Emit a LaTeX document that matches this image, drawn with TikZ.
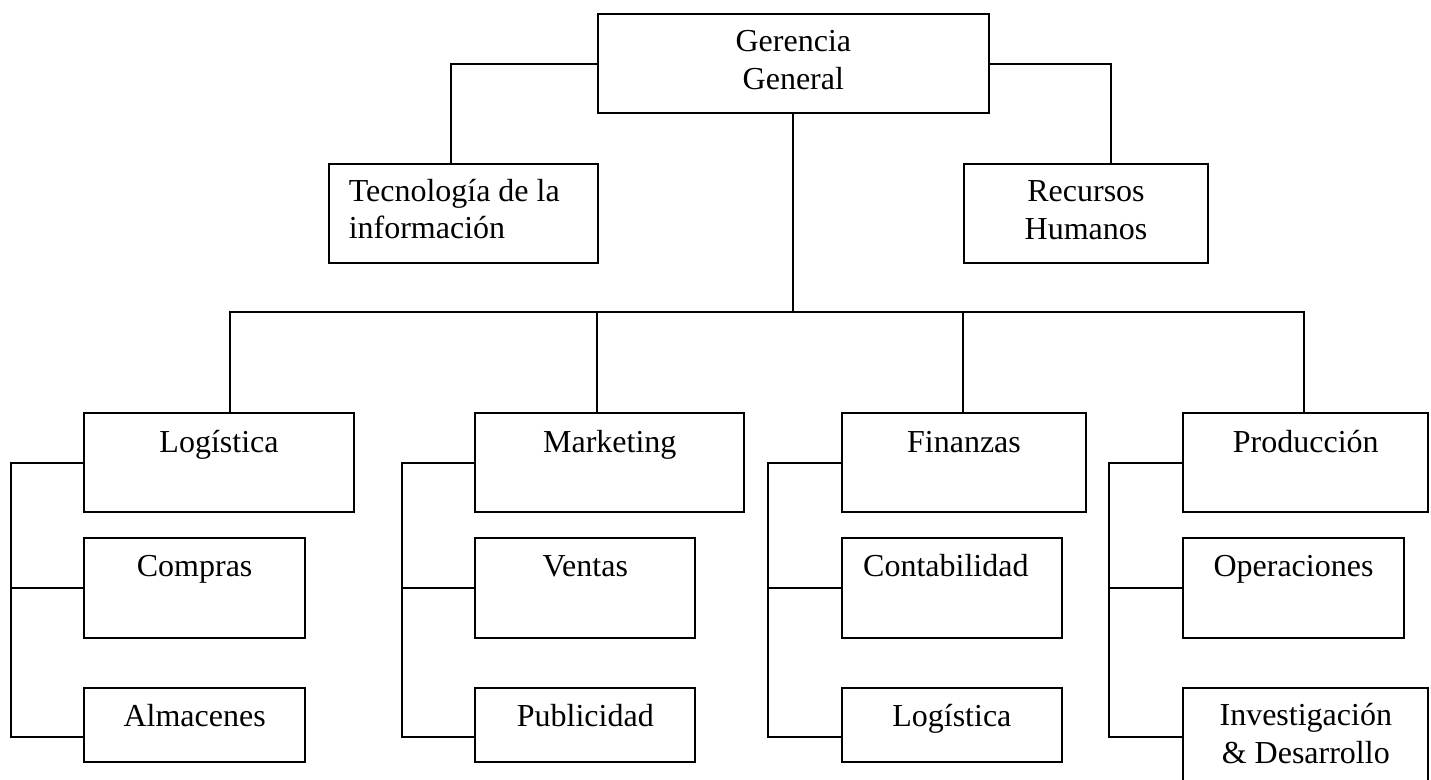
\documentclass[tikz,border=0pt]{standalone}
\usepackage{fontspec}
\setmainfont{Liberation Serif}
% two stacked lines whose baseline is the first one
\newcommand{\twolines}[3][c]{\begin{tabular}[t]{@{}#1@{}}#2\\#3\end{tabular}}
% box from its top-left to its bottom-right corner (units of the picture)
\newcommand{\orgbox}[5]{\node[box, minimum width={(#4-#2)*0.75pt}, minimum height={(#5-#3)*0.75pt}] (#1) at (#2,#3) {};}
\begin{document}
\begin{tikzpicture}[x=0.75pt, y=-0.75pt,
  font={\fontsize{24}{28.25}\selectfont},
  box/.style={draw, line width=1.5pt, inner sep=0pt, anchor=north west},
  wire/.style={line width=1.5pt},
  txt/.style={anchor=base, inner sep=0pt}]
\useasboundingbox (0,0) rectangle (1431,779);

% ---- boxes ----
\orgbox{gg}{597}{13.3}{987.7}{112.3}
\orgbox{ti}{327.7}{162.7}{597}{262.3}
\orgbox{rh}{962.7}{162.7}{1207.3}{262.3}
\orgbox{log}{83.3}{412.3}{352.7}{511}
\orgbox{mkt}{474.3}{412.3}{743.3}{511}
\orgbox{fin}{840.7}{412.3}{1085.3}{511}
\orgbox{prod}{1182.3}{412.3}{1427.3}{511}
\orgbox{comp}{83.3}{536.7}{304}{636.7}
\orgbox{vent}{474.3}{536.7}{694.3}{636.7}
\orgbox{cont}{840.7}{536.7}{1061}{636.7}
\orgbox{oper}{1182.3}{536.7}{1402.7}{636.7}
\orgbox{alm}{83.3}{686.7}{304}{761}
\orgbox{pub}{474.3}{686.7}{694.3}{761}
\orgbox{logf}{840.7}{686.7}{1061}{761}
\orgbox{invd}{1182.3}{686.7}{1427.3}{800}

% ---- labels ----
\node[txt] (ggt) at ([yshift=-28.8pt]gg.north) {\twolines{Gerencia}{General}};
\node[txt, anchor=base west] (tit) at (348.5,201.3) {\twolines[l]{Tecnología de la}{información}};
\node[txt] (rht) at ([yshift=-29.2pt]rh.north) {\twolines{Recursos}{Humanos}};
\node[txt] (logt) at ([yshift=-30pt]log.north) {Logística};
\node[txt] (mktt) at ([yshift=-30pt]mkt.north) {Marketing};
\node[txt] (fint) at ([yshift=-30pt]fin.north) {Finanzas};
\node[txt] (prodt) at ([yshift=-30pt]prod.north) {Producción};
\node[txt] (compt) at ([yshift=-30pt]comp.north) {Compras};
\node[txt] (ventt) at ([yshift=-30pt]vent.north) {Ventas};
\node[txt] (contt) at ([yshift=-30pt, xshift=-4.5pt]cont.north) {Contabilidad};
\node[txt] (opert) at ([yshift=-30pt]oper.north) {Operaciones};
\node[txt] (almt) at ([yshift=-30pt]alm.north) {Almacenes};
\node[txt] (pubt) at ([yshift=-30pt]pub.north) {Publicidad};
\node[txt] (logft) at ([yshift=-30pt]logf.north) {Logística};
\node[txt] (invdt) at ([yshift=-29pt]invd.north) {\twolines{Investigación}{\& Desarrollo}};

% ---- top level connectors ----
\draw[wire] (gg.west) -| ([xshift=-9.25pt]ti.north);
\draw[wire] (gg.east) -| ([xshift=18.5pt]rh.north);

\coordinate (dlog) at (230,312.3);
\coordinate (dmkt) at (597,312.3);
\coordinate (dfin) at (963,312.3);
\coordinate (dprod) at (1304.3,312.3);
\draw[wire] (gg.south) -- (gg.south |- dlog);
\draw[wire] (dlog |- log.north) -- (dlog) -- (dprod) -- (dprod |- prod.north);
\draw[wire] (dmkt) -- (dmkt |- mkt.north);
\draw[wire] (dfin) -- (dfin |- fin.north);

% ---- side brackets of each department ----
\coordinate (b1) at (11,736.7);
\coordinate (b2) at (401.7,736.7);
\coordinate (b3) at (767.7,736.7);
\coordinate (b4) at (1109.3,736.5);
\draw[wire] (log.west) -| (b1) -- (b1 -| alm.west);
\draw[wire] (comp.west) -- (comp.west -| b1);
\draw[wire] (mkt.west) -| (b2) -- (b2 -| pub.west);
\draw[wire] (vent.west) -- (vent.west -| b2);
\draw[wire] (fin.west) -| (b3) -- (b3 -| logf.west);
\draw[wire] (cont.west) -- (cont.west -| b3);
\draw[wire] (prod.west) -| (b4) -- (b4 -| invd.west);
\draw[wire] (oper.west) -- (oper.west -| b4);
\end{tikzpicture}
\end{document}
